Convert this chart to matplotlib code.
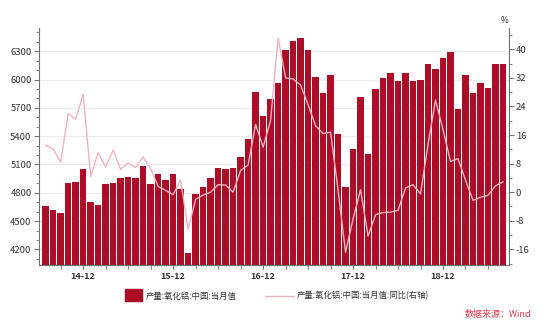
import numpy as np
import pandas as pd
import matplotlib
matplotlib.use('Agg')
import matplotlib.pyplot as plt
from matplotlib.patches import Rectangle
from matplotlib.lines import Line2D
from matplotlib.ticker import MultipleLocator, FixedLocator

plt.rcParams['font.family'] = ['Noto Sans CJK SC', 'DejaVu Sans']
plt.rcParams['axes.unicode_minus'] = False

# monthly output, 2014-07 .. 2019-08
months = pd.period_range('2014-07', '2019-08', freq='M')
output = [4660, 4620, 4585, 4905, 4912, 5054, 4704, 4666, 4898, 4908, 4954, 4970,
          4955, 5080, 4898, 4995, 4935, 5002, 4845, 4165, 4783, 4860, 4954, 5060,
          5048, 5066, 5184, 5368, 5873, 5615, 5790, 5963, 6316, 6404, 6443, 6316,
          6026, 5861, 6053, 5418, 4860, 5259, 5810, 5211, 5898, 6021, 6074, 5982,
          6074, 5982, 5997, 6162, 6116, 6231, 6288, 5693, 6046, 5862, 5965, 5912,
          6162, 6162]
yoy = [13.2, 12.0, 8.4, 22.0, 20.4, 27.4, 4.4, 11.1, 7.0, 11.8, 6.4, 8.2,
       6.9, 9.9, 6.6, 1.6, 0.5, -0.7, 3.4, -10.4, -2.0, -0.8, 0.0, 2.1,
       2.0, 0.0, 6.1, 7.6, 19.0, 12.6, 20.1, 43.2, 32.0, 31.7, 30.0, 24.5,
       18.6, 16.4, 16.8, 0.6, -16.8, -7.5, 0.7, -12.3, -6.3, -5.7, -5.6, -5.1,
       1.2, 2.1, -0.5, 13.3, 25.8, 17.5, 8.6, 9.4, 3.4, -2.3, -1.4, -0.9,
       1.8, 2.9]
tick_labels = ['14-12', '15-12', '16-12', '17-12', '18-12']
bar_label = '产量:氧化铝:中国:当月值'
line_label = '产量:氧化铝:中国:当月值:同比(右轴)'
source = '数据来源：Wind'

bar_color = '#ad0d27'
line_color = '#f2b3bf'
axis_color = '#6f6f6f'

x = np.arange(len(months))
dec_pos = [i for i, m in enumerate(months) if m.month == 12]
quarter_pos = [i for i, m in enumerate(months) if m.month % 3 == 0 and m.month != 12]

fig = plt.figure(figsize=(5.5, 3.28), dpi=100)
ax = fig.add_axes([0.070, 0.193, 0.855, 0.723])

ax.bar(x, output, width=0.86, color=bar_color, zorder=2)
ax.set_xlim(-0.96, 61.77)
ax.set_ylim(4038, 6551)
ax.yaxis.set_major_locator(FixedLocator([4200, 4500, 4800, 5100, 5400, 5700, 6000, 6300]))
ax.yaxis.set_minor_locator(MultipleLocator(100))
ax.grid(axis='y', which='major', color='#ececec', lw=0.8, zorder=0)
ax.set_axisbelow(True)

ax.xaxis.set_major_locator(FixedLocator(dec_pos))
ax.xaxis.set_minor_locator(FixedLocator(quarter_pos))
ax.set_xticklabels(tick_labels)

ax2 = ax.twinx()
ax2.plot(x, yoy, color=line_color, lw=1.0, zorder=3)
ax2.set_ylim(-20.3, 46.1)
ax2.yaxis.set_major_locator(FixedLocator([-16, -8, 0, 8, 16, 24, 32, 40]))
ax2.yaxis.set_minor_locator(MultipleLocator(4))

for a in (ax, ax2):
    a.spines['top'].set_visible(False)
    for s in a.spines.values():
        s.set_color(axis_color)
        s.set_linewidth(0.8)
    a.tick_params(which='major', length=3.5, width=0.7, color=axis_color,
                  labelsize=6.8, labelcolor='#333333', pad=1.5)
    a.tick_params(which='minor', length=2, width=0.6, color=axis_color)
ax.spines['right'].set_visible(False)
ax2.spines['left'].set_visible(False)
ax2.spines['bottom'].set_visible(False)
ax.tick_params(axis='x', which='both', length=3, labelsize=6.5, pad=2)
for lbl in ax.get_xticklabels():
    lbl.set_fontweight('bold')

fig.text(0.918, 0.925, '%', fontsize=6, color='#333333', ha='center', va='bottom')

# legend row under the axes
fig.add_artist(Rectangle((125 / 550, 1 - 301 / 328), 17 / 550, 12 / 328,
                         transform=fig.transFigure, color=bar_color))
fig.text(146 / 550, 1 - 296 / 328, bar_label, fontsize=6, color='#333333',
         ha='left', va='center')
fig.add_artist(Line2D([265 / 550, 294 / 550], [1 - 296 / 328, 1 - 296 / 328],
                      transform=fig.transFigure, color=line_color, lw=1.0))
fig.text(297 / 550, 1 - 296 / 328, line_label, fontsize=6, color='#333333',
         ha='left', va='center')
fig.text(531 / 550, 1 - 314 / 328, source, fontsize=6.5, color='#e23a4e',
         ha='right', va='center', style='italic')

fig.savefig('out.png', dpi=100)
